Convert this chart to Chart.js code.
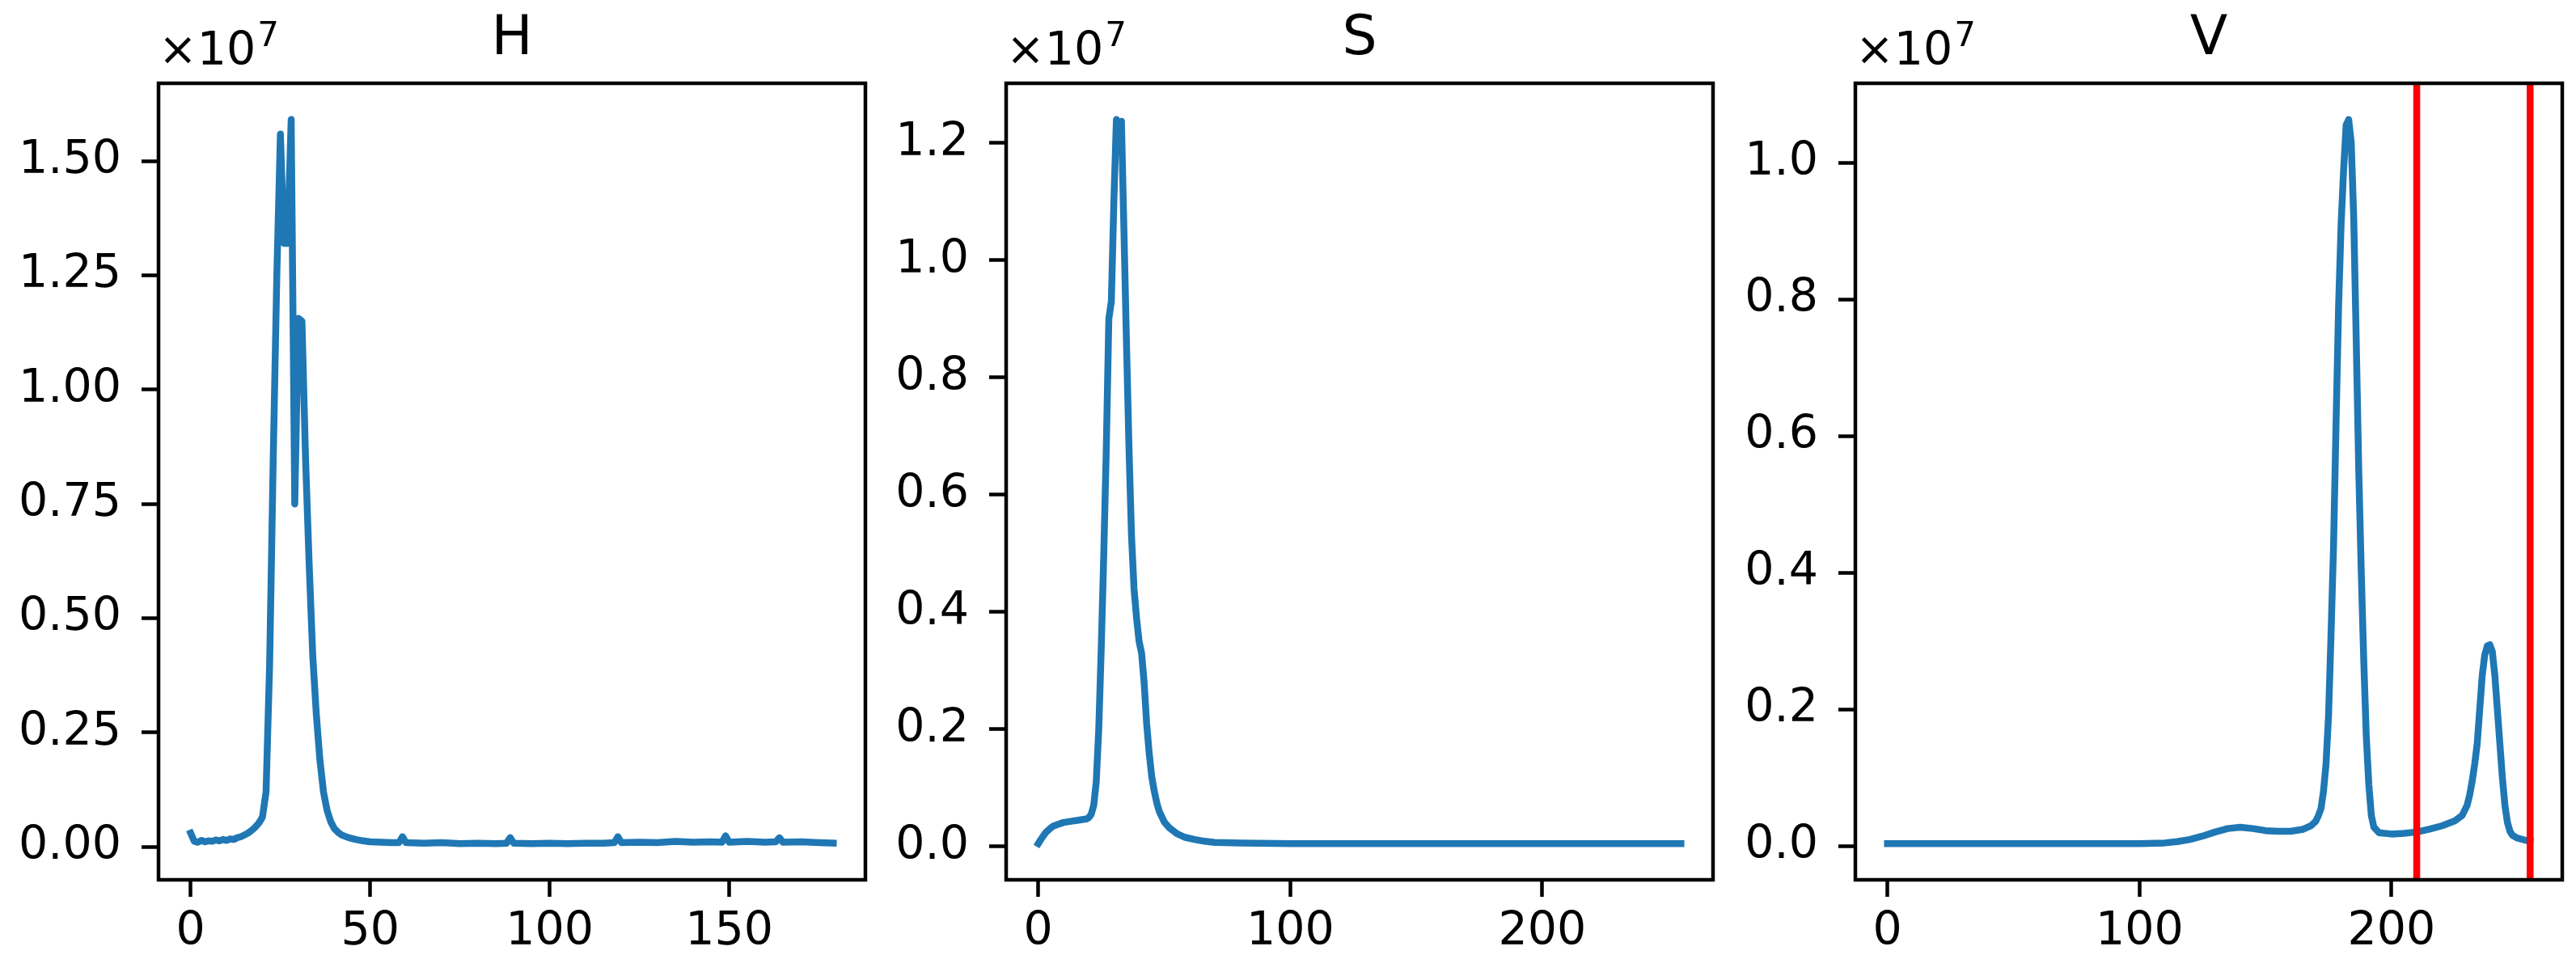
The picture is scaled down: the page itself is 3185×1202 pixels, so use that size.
<!DOCTYPE html>
<html lang="en">
<head>
  <meta charset="UTF-8">
  <title>HSV histograms</title>
  <script src="https://cdn.jsdelivr.net/npm/chart.js"></script>
  <style>
    html, body { margin: 0; padding: 0; background: #fff; }
    body { width: 3185px; height: 1202px; position: relative; overflow: hidden; }
    canvas { position: absolute; top: 0; }
  </style>
</head>
<body>
  <canvas id="chartH" width="1080" height="1202" style="left:0px"></canvas>
  <canvas id="chartS" width="1080" height="1202" style="left:1048px"></canvas>
  <canvas id="chartV" width="1080" height="1202" style="left:2098px"></canvas>

  <script>
    // values are in units of 1e7 (the "x10^7" offset on each axis)

    // H channel (bins 0..179)
    const hBins = [0, 1, 2, 3, 4, 5, 6, 7, 8, 9, 10, 11, 12, 13, 14, 15, 16, 17, 18, 19,
      20, 21, 22, 23, 24, 25, 26, 27, 28, 29, 30, 31, 32, 33, 34, 35, 36, 37, 38, 39,
      40, 41, 42, 44, 46, 48, 50, 53, 56, 58, 59, 60, 65, 70, 75, 80, 85, 88, 89, 90,
      95, 100, 105, 110, 115, 118, 119, 120, 125, 130, 135, 140, 145, 148, 149, 150,
      155, 160, 163, 164, 165, 170, 175, 179];
    const hCounts = [0.030, 0.012, 0.010, 0.014, 0.011, 0.013, 0.012, 0.015, 0.013, 0.016,
      0.014, 0.017, 0.016, 0.020, 0.022, 0.026, 0.030, 0.036, 0.043, 0.052,
      0.065, 0.12, 0.40, 0.85, 1.25, 1.559, 1.32, 1.32, 1.591, 0.75,
      1.156, 1.15, 0.85, 0.62, 0.42, 0.29, 0.19, 0.12, 0.08, 0.055,
      0.040, 0.032, 0.026, 0.020, 0.016, 0.013, 0.011, 0.010, 0.009, 0.009,
      0.022, 0.009, 0.008, 0.009, 0.007, 0.008, 0.007, 0.008, 0.020, 0.008,
      0.007, 0.008, 0.007, 0.008, 0.008, 0.009, 0.022, 0.009, 0.010, 0.009,
      0.012, 0.010, 0.011, 0.010, 0.024, 0.010, 0.012, 0.010, 0.011, 0.020,
      0.010, 0.011, 0.009, 0.008];
    const hXTicks = [0, 50, 100, 150];
    const hYTicks = [0, 0.25, 0.5, 0.75, 1.0, 1.25, 1.5];

    // S channel (bins 0..255)
    const sBins = [0, 1, 2, 3, 4, 5, 6, 8, 10, 13, 16, 19, 20, 21, 22, 23, 24, 25, 26, 27,
      28, 29, 30, 31, 32, 33, 34, 35, 36, 37, 38, 39, 40, 41, 42, 43, 44, 45, 46, 47,
      48, 50, 52, 55, 58, 62, 66, 70, 80, 100, 150, 200, 255];
    const sCounts = [0.005, 0.012, 0.018, 0.024, 0.028, 0.032, 0.035, 0.038, 0.041, 0.043,
      0.045, 0.047, 0.049, 0.055, 0.07, 0.11, 0.20, 0.34, 0.50, 0.68,
      0.90, 0.93, 1.10, 1.24, 1.22, 1.237, 1.05, 0.86, 0.68, 0.53,
      0.44, 0.39, 0.35, 0.33, 0.28, 0.21, 0.16, 0.12, 0.095, 0.075,
      0.06, 0.042, 0.032, 0.022, 0.016, 0.012, 0.009, 0.007, 0.006, 0.005,
      0.005, 0.005, 0.005];
    const sXTicks = [0, 100, 200];
    const sYTicks = [0, 0.2, 0.4, 0.6, 0.8, 1.0, 1.2];

    // V channel (bins 0..255)
    const vBins = [0, 50, 100, 110, 115, 120, 125, 130, 135, 140, 145, 150, 155, 160, 165, 168,
      170, 171, 172, 173, 174, 175, 176, 177, 178, 179, 180, 181, 182, 183, 184, 185,
      186, 187, 188, 189, 190, 191, 192, 193, 195, 200, 205, 210, 215, 220, 225, 228,
      230, 231, 232, 233, 234, 235, 236, 237, 238, 239, 240, 241, 242, 243, 244, 245,
      246, 247, 248, 250, 253, 255];
    const vCounts = [0.004, 0.004, 0.004, 0.005, 0.007, 0.010, 0.015, 0.021, 0.026, 0.028,
      0.026, 0.023, 0.022, 0.022, 0.025, 0.030, 0.037, 0.045, 0.055, 0.08,
      0.12, 0.19, 0.31, 0.44, 0.62, 0.79, 0.91, 0.99, 1.055, 1.063,
      1.03, 0.92, 0.74, 0.55, 0.40, 0.27, 0.16, 0.09, 0.045, 0.028,
      0.020, 0.018, 0.019, 0.021, 0.025, 0.030, 0.037, 0.045, 0.06, 0.075,
      0.095, 0.12, 0.15, 0.20, 0.25, 0.28, 0.293, 0.295, 0.285, 0.25,
      0.20, 0.15, 0.10, 0.06, 0.035, 0.022, 0.016, 0.012, 0.009, 0.008];
    const vXTicks = [0, 100, 200];
    const vYTicks = [0, 0.2, 0.4, 0.6, 0.8, 1.0];
    const vThresholds = [210, 255];

    const FONT = 'DejaVu Sans';

    // spines, title and the x10^7 offset label
    const framePlugin = {
      id: 'frame',
      afterDraw(chart, args, opts) {
        const a = chart.chartArea;
        const ctx = chart.ctx;
        ctx.save();
        ctx.strokeStyle = '#000';
        ctx.lineWidth = 4.5;
        ctx.strokeRect(a.left, a.top, a.right - a.left, a.bottom - a.top);
        ctx.fillStyle = '#000';
        ctx.textBaseline = 'alphabetic';
        ctx.textAlign = 'center';
        ctx.font = `68px "${FONT}"`;
        ctx.fillText(opts.title, (a.left + a.right) / 2, 67);
        ctx.textAlign = 'left';
        ctx.font = `57px "${FONT}"`;
        ctx.fillText('\u00d710', a.left, 80);
        const w = ctx.measureText('\u00d710').width;
        ctx.font = `42px "${FONT}"`;
        ctx.fillText('7', a.left + w + 2, 57);
        ctx.restore();
      }
    };

    function padRange(vals) {
      const lo = Math.min(...vals), hi = Math.max(...vals);
      const m = (hi - lo) * 0.05;
      return [lo - m, hi + m];
    }

    function makeChart(id, title, bins, counts, xTicks, yTicks, decimals, vlines) {
      const [xMin, xMax] = padRange(bins);
      const [yMin, yMax] = padRange(counts);
      const datasets = [];
      (vlines || []).forEach(v => {
        datasets.push({
          data: [{ x: v, y: yMin }, { x: v, y: yMax }],
          borderColor: '#ff0000',
          borderWidth: 8.5,
          borderCapStyle: 'butt',
          pointRadius: 0,
          order: 1
        });
      });
      datasets.push({
        data: bins.map((b, i) => ({ x: b, y: counts[i] })),
        borderColor: '#1f77b4',
        borderWidth: 8.5,
        borderJoinStyle: 'round',
        borderCapStyle: 'square',
        pointRadius: 0,
        tension: 0,
        order: 2
      });

      const tickGrid = {
        display: true,
        drawOnChartArea: false,
        drawTicks: true,
        tickLength: 21,
        tickWidth: 4.5,
        tickColor: '#000'
      };

      return new Chart(document.getElementById(id), {
        type: 'line',
        data: { datasets },
        options: {
          responsive: false,
          animation: false,
          devicePixelRatio: 1,
          layout: { padding: { top: 103, right: 10, left: 0, bottom: 0 } },
          plugins: {
            legend: { display: false },
            tooltip: { enabled: false },
            frame: { title }
          },
          scales: {
            x: {
              type: 'linear',
              min: xMin,
              max: xMax,
              afterBuildTicks: s => { s.ticks = xTicks.map(v => ({ value: v })); },
              afterFit: s => { s.height = 114; },
              grid: tickGrid,
              border: { display: false },
              ticks: {
                color: '#000',
                font: { family: FONT, size: 57 },
                padding: 10,
                maxRotation: 0,
                autoSkip: false,
                callback: v => String(v)
              }
            },
            y: {
              type: 'linear',
              min: yMin,
              max: yMax,
              afterBuildTicks: s => { s.ticks = yTicks.map(v => ({ value: v })); },
              afterFit: s => { s.width = 196; },
              grid: tickGrid,
              border: { display: false },
              ticks: {
                color: '#000',
                font: { family: FONT, size: 57 },
                padding: 25,
                autoSkip: false,
                callback: v => v.toFixed(decimals)
              }
            }
          }
        },
        plugins: [framePlugin]
      });
    }

    makeChart('chartH', 'H', hBins, hCounts, hXTicks, hYTicks, 2);
    makeChart('chartS', 'S', sBins, sCounts, sXTicks, sYTicks, 1);
    makeChart('chartV', 'V', vBins, vCounts, vXTicks, vYTicks, 1, vThresholds);
  </script>
</body>
</html>
